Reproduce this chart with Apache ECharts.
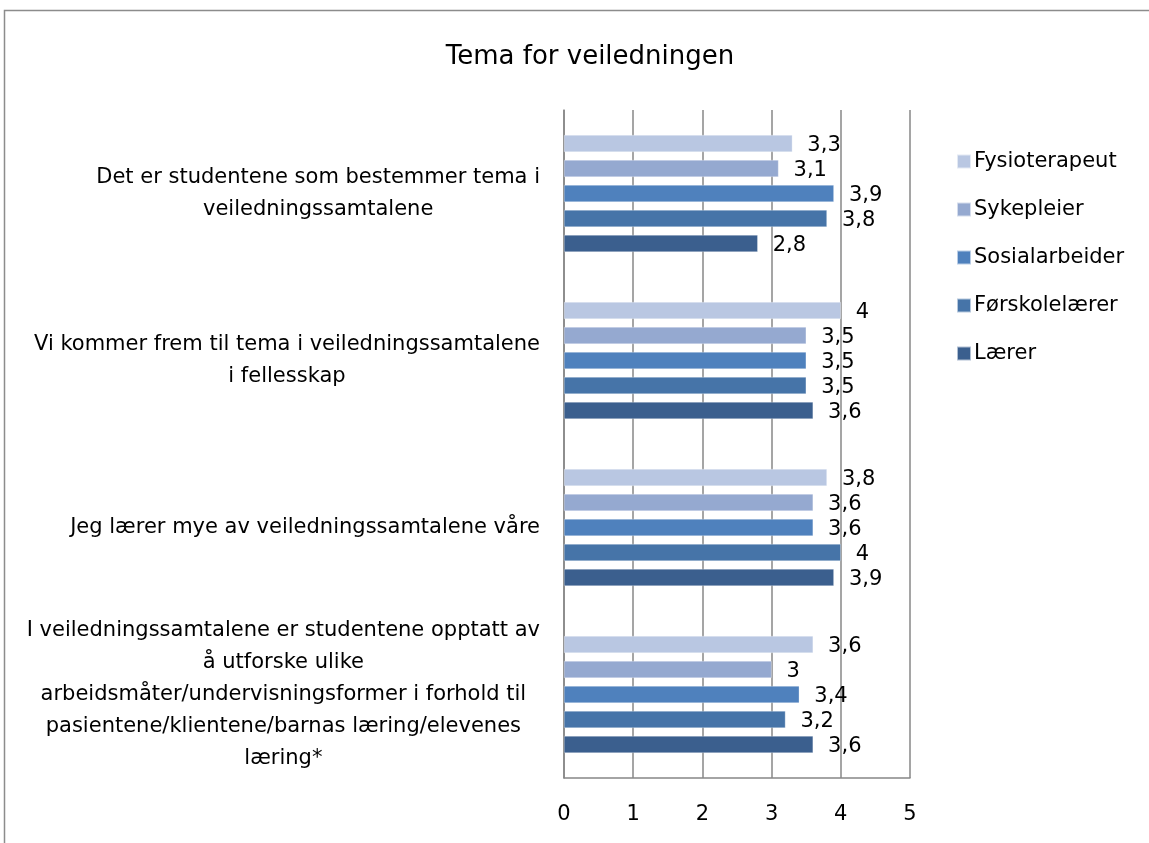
<!DOCTYPE html>
<html>
<head>
<meta charset="utf-8">
<script src="https://cdn.jsdelivr.net/npm/echarts@6/dist/echarts.min.js"></script>
<style>
html,body{margin:0;padding:0;background:#fff;}
#chart{width:1149px;height:843px;}
</style>
</head>
<body>
<div id="chart"></div>
<script>
const categories = [
  'Det er studentene som bestemmer tema i\nveiledningssamtalene',
  'Vi kommer frem til tema i veiledningssamtalene\ni fellesskap',
  'Jeg lærer mye av veiledningssamtalene våre',
  'I veiledningssamtalene er studentene opptatt av\nå utforske ulike\narbeidsmåter/undervisningsformer i forhold til\npasientene/klientene/barnas læring/elevenes\nlæring*'
];
const seriesNames = ['Fysioterapeut', 'Sykepleier', 'Sosialarbeider', 'Førskolelærer', 'Lærer'];
const fysioterapeut = [3.3, 4.0, 3.8, 3.6];
const sykepleier = [3.1, 3.5, 3.6, 3.0];
const sosialarbeider = [3.9, 3.5, 3.6, 3.4];
const forskolelaerer = [3.8, 3.5, 4.0, 3.2];
const laerer = [2.8, 3.6, 3.9, 3.6];
const xTicks = [0, 1, 2, 3, 4, 5];

const seriesValues = [fysioterapeut, sykepleier, sosialarbeider, forskolelaerer, laerer];
const colors = ['#B9C7E2', '#95A9D0', '#4F81BD', '#4674A8', '#3B5F8E'];
const FONT = 'DejaVu Sans';

const chart = echarts.init(document.getElementById('chart'));
const option = {
  backgroundColor: '#fff',
  animation: false,
  textStyle: { fontFamily: FONT },
  graphic: [{
    type: 'rect',
    shape: { x: 4.5, y: 10.5, width: 1300, height: 1000 },
    style: { fill: 'none', stroke: '#8c8c8c', lineWidth: 1.5 },
    silent: true
  }],
  title: {
    text: 'Tema for veiledningen',
    left: 585,
    textAlign: 'center',
    top: 39,
    textStyle: { fontFamily: FONT, fontSize: 26, fontWeight: 'normal', color: '#000' }
  },
  legend: {
    orient: 'vertical',
    left: 951,
    top: 146,
    itemWidth: 14,
    itemHeight: 14,
    itemGap: 27,
    icon: 'rect',
    data: seriesNames,
    textStyle: { fontFamily: FONT, fontSize: 21, color: '#000', padding: [0, 0, 0, -2] }
  },
  grid: { left: 564, right: 239, top: 110, bottom: 65, containLabel: false },
  xAxis: {
    type: 'value',
    min: xTicks[0],
    max: xTicks[xTicks.length - 1],
    interval: 1,
    axisLine: { show: true, lineStyle: { color: '#878787', width: 1.5 } },
    axisTick: { show: false },
    splitLine: { show: true, lineStyle: { color: '#878787', width: 1.5 } },
    axisLabel: { fontFamily: FONT, fontSize: 21, color: '#000', margin: 26 }
  },
  yAxis: {
    type: 'category',
    inverse: true,
    data: categories,
    axisLine: { show: true, lineStyle: { color: '#878787', width: 1.5 } },
    axisTick: { show: false },
    axisLabel: {
      margin: 24,
      align: 'right',
      formatter: function (v) {
        return v.split('\n').map(function (l) { return '{a|' + l + '}'; }).join('\n');
      },
      rich: {
        a: { fontFamily: FONT, fontSize: 21, color: '#000', align: 'center', lineHeight: 32 }
      }
    }
  },
  series: seriesNames.map(function (name, i) {
    return {
      name: name,
      type: 'bar',
      data: seriesValues[i],
      barWidth: 17,
      barGap: '47%',
      itemStyle: { color: colors[i], borderColor: 'rgba(255,255,255,0.6)', borderWidth: 0.5 },
      label: {
        show: true,
        position: 'right',
        distance: 15,
        offset: [0, 2],
        fontFamily: FONT,
        fontSize: 21,
        color: '#000',
        formatter: function (p) { return String(p.value).replace('.', ','); }
      }
    };
  })
};
chart.setOption(option);
</script>
</body>
</html>
